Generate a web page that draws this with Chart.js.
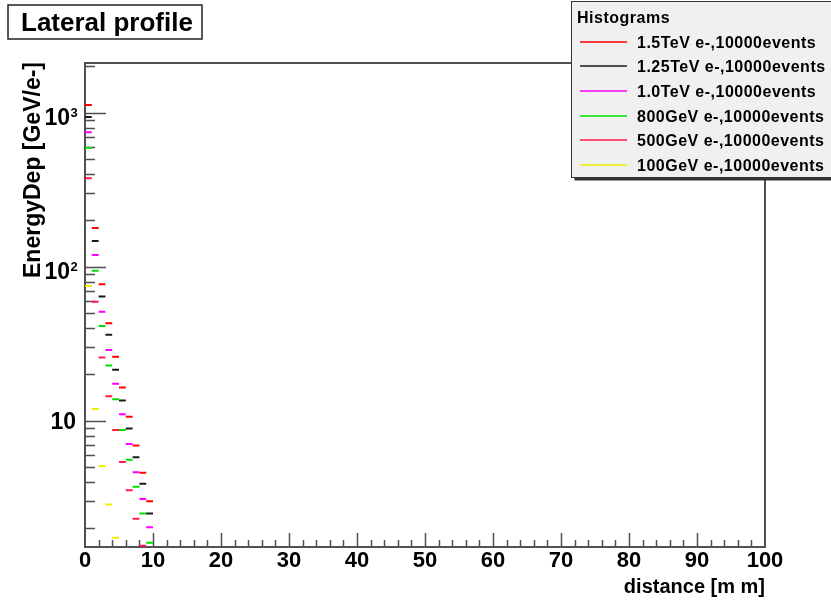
<!DOCTYPE html>
<html>
<head>
<meta charset="utf-8">
<title>Lateral profile</title>
<script src="https://cdn.jsdelivr.net/npm/chart.js@4/dist/chart.umd.min.js"></script>
<style>
  body { margin: 0; background: #fff; }
  canvas { display: block; }
</style>
</head>
<body>
<canvas id="profile" width="831" height="601"></canvas>
<script>
// energy deposit per 1 mm ring, GeV per electron
const binWidth = 1;
const e1500 = [1122, 178, 77, 43, 26, 16.4, 10.6, 6.9, 4.6, 3.0];
const e1250 = [938, 147, 64, 36.2, 21.4, 13.5, 8.9, 5.8, 3.9, 2.5];
const e1000 = [746, 119, 51, 28.8, 17.4, 11.0, 7.06, 4.62, 3.1, 2.03];
const e800 = [593, 94, 41.2, 22.8, 13.8, 8.7, 5.58, 3.73, 2.5, 1.61];
const e500 = [375, 59.3, 25.7, 14.4, 8.7, 5.39, 3.53, 2.31, 1.54];
const e100 = [74.9, 11.9, 5.08, 2.86, 1.74];

const seriesLabels = [
  '1.5TeV e-,10000events',
  '1.25TeV e-,10000events',
  '1.0TeV e-,10000events',
  '800GeV e-,10000events',
  '500GeV e-,10000events',
  '100GeV e-,10000events'
];
const seriesColors = ['#ff0000', '#1a1a1a', '#ff00ff', '#00e000', '#ff1a4a', '#eeee00'];
const seriesValues = [e1500, e1250, e1000, e800, e500, e100];

// decades labelled on the y axis, as exponents of ten
const yTickExponents = [1, 2, 3];

// one flat step per bin, broken between bins
function histSteps(values) {
  const pts = [];
  values.forEach((v, i) => {
    pts.push({ x: i * binWidth, y: v });
    pts.push({ x: (i + 1) * binWidth, y: v });
    pts.push({ x: (i + 1) * binWidth, y: null });
  });
  return pts;
}

const FONT = '"Liberation Sans", Arial, Helvetica, sans-serif';

// frame and inward ticks, ROOT style
const framePlugin = {
  id: 'frame',
  beforeDatasetsDraw(chart) {
    const { ctx, chartArea: a, scales: { x, y } } = chart;
    ctx.save();
    ctx.strokeStyle = '#505050';
    ctx.lineWidth = 2;
    ctx.strokeRect(a.left, a.top, a.right - a.left, a.bottom - a.top);
    ctx.lineWidth = 1.5;
    ctx.beginPath();
    for (let v = 2; v < 100; v += 2) {
      const px = Math.round(x.getPixelForValue(v)) + 0.5;
      const len = v % 10 === 0 ? 14 : 7;
      ctx.moveTo(px, a.bottom);
      ctx.lineTo(px, a.bottom - len);
    }
    for (let d = 1; d <= 1000; d *= 10) {
      for (let k = 1; k < 10; k++) {
        const v = k * d;
        if (v < y.min || v > y.max) continue;
        const py = Math.round(y.getPixelForValue(v)) + 0.5;
        ctx.moveTo(a.left, py);
        ctx.lineTo(a.left + (k === 1 ? 21 : 10), py);
      }
    }
    ctx.stroke();
    ctx.restore();
  }
};

// title box, y labels with exponents, axis titles and legend box
const decorPlugin = {
  id: 'decor',
  afterDraw(chart) {
    const { ctx, chartArea: a, scales: { y } } = chart;
    ctx.save();

    // title box
    ctx.fillStyle = '#fff';
    ctx.fillRect(8, 5, 194, 34);
    ctx.strokeStyle = '#222';
    ctx.lineWidth = 1.5;
    ctx.strokeRect(8, 5, 194, 34);
    ctx.fillStyle = '#000';
    ctx.font = 'bold 26px ' + FONT;
    ctx.textAlign = 'left';
    ctx.textBaseline = 'alphabetic';
    ctx.fillText('Lateral profile', 21, 31);

    // y tick labels: 10, 10^2, 10^3
    yTickExponents.forEach(n => {
      const py = y.getPixelForValue(Math.pow(10, n));
      ctx.font = 'bold 23px ' + FONT;
      ctx.textAlign = 'right';
      if (n === 1) {
        ctx.fillText('10', a.left - 9, py + 8.3);
      } else {
        ctx.fillText('10', a.left - 15, py + 12.3);
        ctx.font = 'bold 13px ' + FONT;
        ctx.textAlign = 'left';
        ctx.fillText(String(n), a.left - 14.5, py + 4);
      }
    });

    // x title
    ctx.font = 'bold 20px ' + FONT;
    ctx.textAlign = 'right';
    ctx.fillText('distance [m m]', a.right, 593);

    // y title
    ctx.save();
    ctx.translate(39.5, a.top - 1);
    ctx.rotate(-Math.PI / 2);
    ctx.font = 'bold 23px ' + FONT;
    ctx.textAlign = 'right';
    ctx.fillText('EnergyDep [GeV/e-]', 0, 0);
    ctx.restore();

    // legend
    const lx = 571.5, ly = 1.5, lw = 262, lh = 176;
    ctx.fillStyle = '#303030';
    ctx.fillRect(lx + 3, ly + lh, lw, 3);
    ctx.fillStyle = '#f0f0f0';
    ctx.fillRect(lx, ly, lw, lh);
    ctx.strokeStyle = '#333';
    ctx.lineWidth = 1;
    ctx.strokeRect(lx, ly, lw, lh);

    ctx.fillStyle = '#000';
    ctx.textAlign = 'left';
    ctx.font = 'bold 16px ' + FONT;
    ctx.letterSpacing = '0.5px';
    ctx.fillText('Histograms', 577, 23);
    chart.data.datasets.forEach((ds, i) => {
      const cy = Math.round(41.5 + i * 24.7);
      ctx.strokeStyle = ds.borderColor;
      ctx.lineWidth = 1.5;
      ctx.beginPath();
      ctx.moveTo(580, cy);
      ctx.lineTo(627, cy);
      ctx.stroke();
      ctx.fillStyle = '#000';
      ctx.fillText(ds.label, 637, cy + 5.5);
    });
    ctx.restore();
  }
};

new Chart(document.getElementById('profile'), {
  type: 'line',
  data: {
    datasets: seriesValues.map((vals, i) => ({
      label: seriesLabels[i],
      data: histSteps(vals),
      borderColor: seriesColors[i],
      borderWidth: 2,
      pointRadius: 0,
      spanGaps: false,
      tension: 0,
      fill: false
    }))
  },
  options: {
    responsive: false,
    animation: false,
    devicePixelRatio: 1,
    layout: { padding: { top: 63, right: 66, left: 0, bottom: 0 } },
    plugins: {
      legend: { display: false },
      tooltip: { enabled: false }
    },
    scales: {
      x: {
        type: 'linear',
        min: 0,
        max: 100,
        grid: { display: false, drawTicks: false },
        border: { display: false },
        ticks: {
          stepSize: 10,
          maxRotation: 0,
          padding: 1,
          color: '#000',
          font: { family: FONT, size: 22, weight: 'bold' }
        },
        afterFit(scale) { scale.height = 54; }
      },
      y: {
        type: 'logarithmic',
        min: 1.513,
        max: 2102,
        grid: { display: false, drawTicks: false },
        border: { display: false },
        ticks: { display: false },
        afterFit(scale) { scale.width = 85; }
      }
    }
  },
  plugins: [framePlugin, decorPlugin]
});
</script>
</body>
</html>
